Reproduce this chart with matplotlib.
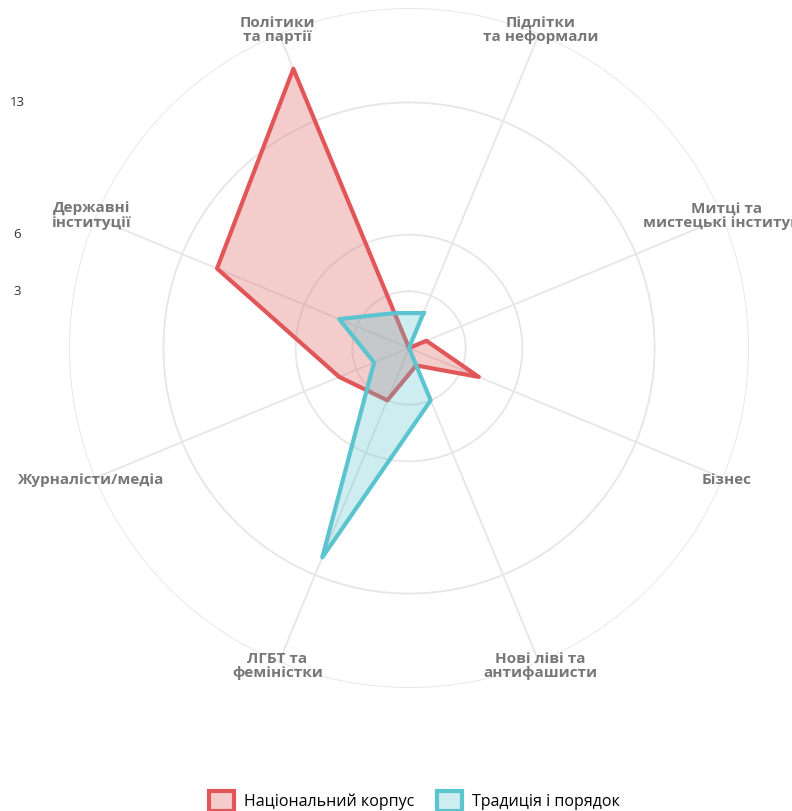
import numpy as np
import matplotlib
matplotlib.use('Agg')
from matplotlib import pyplot as plt
from matplotlib.patches import Patch
from matplotlib.transforms import IdentityTransform

plt.rcParams['font.family'] = ['Open Sans', 'DejaVu Sans']

# категорії по годинниковій стрілці, починаючи з верхньої правої осі
categories = ['Підлітки\nта неформали', 'Митці та\nмистецькі інституції', 'Бізнес',
              'Нові ліві та\nантифашисти', 'ЛГБТ та\nфеміністки', 'Журналісти/медіа',
              'Державні\nінституції', 'Політики\nта партії']
nat_korpus = [0, 1, 4, 1, 3, 4, 11, 16]
tradytsia = [2, 0, 0, 3, 12, 2, 4, 2]
series_names = ['Національний корпус', 'Традиція і порядок']
rticks = [3, 6, 13, 18]
rtick_labels = ['3', '6', '13']

red = '#e15759'
cyan = '#5bc4cf'

W, H = 792, 811
fig = plt.figure(figsize=(W / 100, H / 100), dpi=100)
cx, cy, R = 409, 348, 340
ax = fig.add_axes([(cx - R) / W, (H - cy - R) / H, 2 * R / W, 2 * R / H], polar=True)
ax.set_theta_zero_location('N')
ax.set_theta_direction(-1)

n = len(categories)
angles = np.deg2rad(22.5 + 45 * np.arange(n))

ax.set_ylim(0, 18)
ax.set_yticks(rticks)
ax.set_yticklabels([])
ax.set_xticks(angles)
ax.set_xticklabels([])
ax.tick_params(length=0)
ax.grid(color='#e6e6e6', lw=1.3)
ax.spines['polar'].set_visible(False)

ang_c = np.append(angles, angles[0])
for vals, col, z in [(nat_korpus, red, 2), (tradytsia, cyan, 3)]:
    v = np.append(vals, vals[0])
    ax.plot(ang_c, v, color=col, lw=3, zorder=z)
    ax.fill(ang_c, v, color=col, alpha=0.3, lw=0, zorder=z)

# підписи осей на краю кола
for a, lab in zip(angles, categories):
    ax.text(a, 18.2, lab, ha='center', va='center', fontsize=11, fontweight='bold',
            color='#777777', linespacing=1.0, clip_on=False)

# підписи шкали зліва
for r, lab in zip(rticks, rtick_labels):
    px = ax.transData.transform((0, r))
    fig.text(17, px[1], lab, transform=IdentityTransform(), ha='center', va='center',
             fontsize=9.5, color='#333333')

handles = [Patch(facecolor=matplotlib.colors.to_rgba(c, 0.3), edgecolor=c, lw=3)
           for c in (red, cyan)]
fig.legend(handles, series_names, loc='lower center', ncol=2, frameon=False,
           fontsize=11.5, bbox_to_anchor=(0.523, -0.018), handlelength=1.6, handleheight=1.6,
           handletextpad=0.6, columnspacing=1.4)

fig.savefig('out.png', dpi=100)
